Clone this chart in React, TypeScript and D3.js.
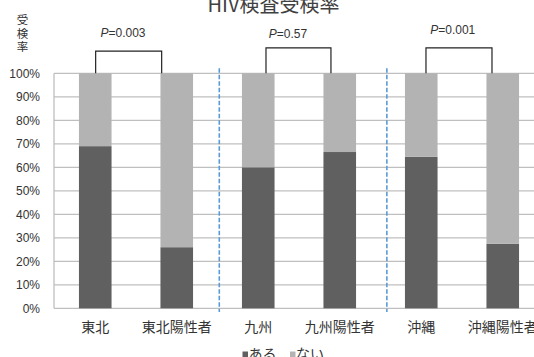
import React from "react";
import * as d3 from "d3";

const categories = ["東北", "東北陽性者", "九州", "九州陽性者", "沖縄", "沖縄陽性者"];
const aruValues = [0.69, 0.26, 0.6, 0.665, 0.645, 0.275];
const naiValues = aruValues.map((v) => 1 - v);
const yTicks = [0, 0.1, 0.2, 0.3, 0.4, 0.5, 0.6, 0.7, 0.8, 0.9, 1.0];
const seriesNames = ["ある", "ない"];
const pLabels = ["0.003", "0.57", "0.001"];
// bracket ends in band-step units, top height in value units
const bracketFrom = [0.505, 2.595, 4.558];
const bracketTo = [1.315, 3.392, 5.368];
const bracketTop = [1.094, 1.108, 1.108];
const pLabelPos = [0.84, 2.865, 4.886];
const pLabelY = [1.153, 1.149, 1.166];
const separatorPos = [2.022, 4.078];

const W = 534;
const H = 357;
const colors = ["#606060", "#b3b3b3"];
const latin = "'Liberation Sans', Arial, sans-serif";
const cjk = "'Noto Sans CJK JP', 'Noto Sans', sans-serif";

export default function App() {
  const x = d3
    .scaleBand<string>()
    .domain(categories)
    .range([54.5, 543.5])
    .paddingInner(0.6)
    .paddingOuter(0.3);
  const y = d3.scaleLinear().domain([0, 1]).range([308.3, 73.3]);
  const step = x.step();
  const x0 = 54.5;
  const sx = (u: number) => x0 + u * step;

  return (
    <svg
      width={W}
      height={H}
      style={{ position: "absolute", left: 0, top: 0, background: "#fff" }}
    >
      {/* title */}
      <text x={273.5} y={11.7} textAnchor="middle" fontFamily={cjk} fontSize={20} fill="#404040">
        HIV検査受検率
      </text>
      {/* y axis title */}
      {"受検率".split("").map((c, i) => (
        <text key={c + i} x={22.5} y={24 + i * 13.5} textAnchor="middle" fontFamily={cjk} fontSize={11.5} fill="#333">
          {c}
        </text>
      ))}
      {/* gridlines */}
      {yTicks.map((t) => (
        <line key={t} x1={54} x2={W} y1={y(t)} y2={y(t)} stroke="#bfbfbf" strokeWidth={1.3} />
      ))}
      <line x1={54} x2={54} y1={y(1)} y2={y(0)} stroke="#bfbfbf" strokeWidth={1.3} />
      {/* tick labels */}
      {yTicks.map((t) => (
        <text
          key={"l" + t}
          x={40}
          y={y(t)}
          dy="0.35em"
          textAnchor="end"
          fontFamily={latin}
          fontSize={12}
          fill="#333"
        >
          {d3.format(".0%")(t)}
        </text>
      ))}
      {/* bars */}
      {categories.map((c, i) => (
        <g key={c}>
          <rect x={x(c)} width={x.bandwidth()} y={y(aruValues[i])} height={y(0) - y(aruValues[i])} fill={colors[0]} />
          <rect
            x={x(c)}
            width={x.bandwidth()}
            y={y(aruValues[i] + naiValues[i])}
            height={y(aruValues[i]) - y(aruValues[i] + naiValues[i])}
            fill={colors[1]}
          />
        </g>
      ))}
      {/* separators */}
      {separatorPos.map((s, i) => (
        <line
          key={"s" + i}
          x1={sx(s)}
          x2={sx(s)}
          y1={y(1.022)}
          y2={y(-0.016)}
          stroke="#5b9bd5"
          strokeWidth={1.6}
          strokeDasharray="4.5,2"
        />
      ))}
      {/* brackets */}
      {bracketFrom.map((f, i) => (
        <path
          key={"b" + i}
          d={`M${sx(f)},${y(1)}V${y(bracketTop[i])}H${sx(bracketTo[i])}V${y(1)}`}
          fill="none"
          stroke="#222"
          strokeWidth={1.2}
        />
      ))}
      {pLabels.map((p, i) => (
        <text key={"p" + i} x={sx(pLabelPos[i])} y={y(pLabelY[i])} textAnchor="middle" fontFamily={latin} fontSize={12} fill="#333">
          <tspan fontStyle="italic">P</tspan>={p}
        </text>
      ))}
      {/* category labels */}
      {categories.map((c) => (
        <text key={"c" + c} x={x(c)! + x.bandwidth() / 2} y={332} textAnchor="middle" fontFamily={cjk} fontSize={14} fill="#333">
          {c}
        </text>
      ))}
      {/* legend */}
      {seriesNames.map((s, i) => (
        <g key={s} transform={`translate(${242.5 + i * 47.5},0)`}>
          <rect x={0} y={351.5} width={5.5} height={5.5} fill={colors[i]} />
          <text x={6} y={359} fontFamily={cjk} fontSize={14} fill="#333">
            {s}
          </text>
        </g>
      ))}
    </svg>
  );
}
